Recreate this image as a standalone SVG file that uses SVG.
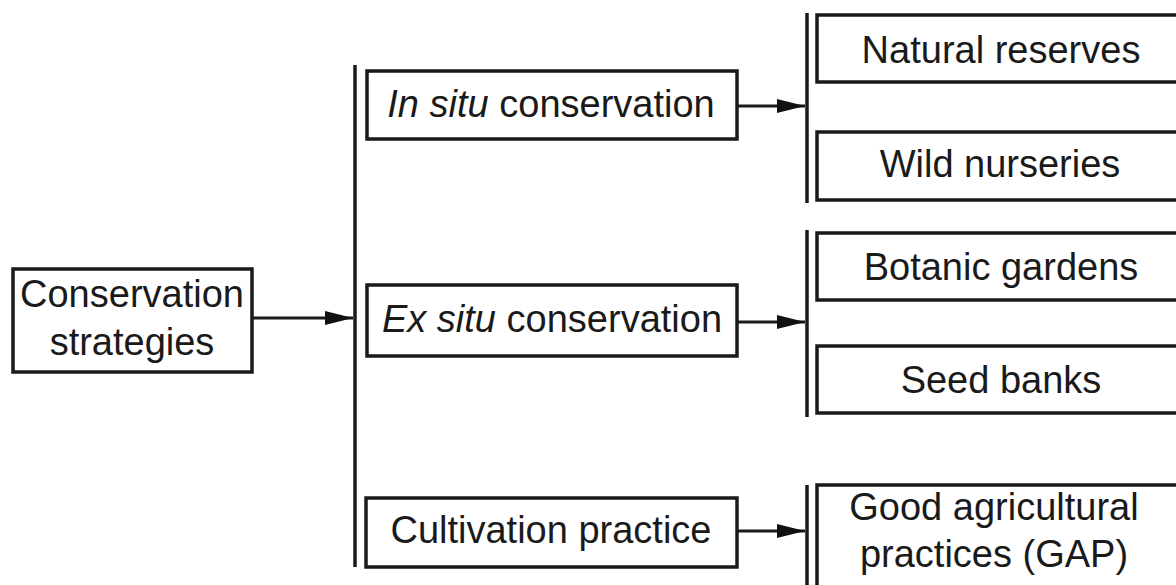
<svg xmlns="http://www.w3.org/2000/svg" width="1176" height="585" viewBox="0 0 1176 585">
  <defs>
    <style>
      .box { fill: #ffffff; stroke: #1a1a1a; stroke-width: 3.5; }
      .t { font-family: "Liberation Sans", Arial, sans-serif; font-size: 38px; fill: #1a1a1a; text-anchor: middle; }
      .i { font-style: italic; }
      .ln { stroke: #1a1a1a; stroke-width: 3.5; fill: none; }
      .ar { stroke: #1a1a1a; stroke-width: 3; fill: none; }
    </style>
    <marker id="head" markerWidth="28" markerHeight="16" refX="28" refY="8" orient="auto" markerUnits="userSpaceOnUse">
      <path d="M0,1 L28,8 L0,15 Z" fill="#111"/>
    </marker>
  </defs>
  <rect width="1176" height="585" fill="#ffffff"/>

  <g id="connectors">
    <line class="ln" x1="355" y1="65" x2="355" y2="567"/>
    <line class="ln" x1="807" y1="13" x2="807" y2="203"/>
    <line class="ln" x1="807" y1="230" x2="807" y2="417"/>
    <line class="ln" x1="807" y1="485" x2="807" y2="585"/>
    <line class="ar" x1="252" y1="318" x2="353" y2="318" marker-end="url(#head)"/>
    <line class="ar" x1="737" y1="106" x2="805" y2="106" marker-end="url(#head)"/>
    <line class="ar" x1="737" y1="322" x2="805" y2="322" marker-end="url(#head)"/>
    <line class="ar" x1="737" y1="531" x2="805" y2="531" marker-end="url(#head)"/>
  </g>

  <g id="conservation-strategies">
    <rect class="box" x="13" y="269" width="239" height="103"/>
    <text class="t" x="132" y="307">Conservation</text>
    <text class="t" x="132" y="355">strategies</text>
  </g>

  <g id="in-situ">
    <rect class="box" x="367" y="71" width="370" height="68"/>
    <text class="t" x="551" y="117"><tspan class="i">In situ</tspan> conservation</text>
  </g>

  <g id="ex-situ">
    <rect class="box" x="367" y="285" width="370" height="71"/>
    <text class="t" x="552" y="332"><tspan class="i">Ex situ</tspan> conservation</text>
  </g>

  <g id="cultivation">
    <rect class="box" x="366" y="498" width="371" height="69"/>
    <text class="t" x="551" y="543">Cultivation practice</text>
  </g>

  <g id="natural-reserves">
    <rect class="box" x="817" y="15" width="370" height="67"/>
    <text class="t" x="1001" y="63">Natural reserves</text>
  </g>

  <g id="wild-nurseries">
    <rect class="box" x="817" y="132" width="370" height="68"/>
    <text class="t" x="1000" y="177">Wild nurseries</text>
  </g>

  <g id="botanic-gardens">
    <rect class="box" x="817" y="233" width="370" height="67"/>
    <text class="t" x="1001" y="280">Botanic gardens</text>
  </g>

  <g id="seed-banks">
    <rect class="box" x="817" y="346" width="370" height="67"/>
    <text class="t" x="1001" y="393">Seed banks</text>
  </g>

  <g id="gap">
    <rect class="box" x="817" y="485" width="370" height="110"/>
    <text class="t" x="994" y="520">Good agricultural</text>
    <text class="t" x="994" y="567">practices (GAP)</text>
  </g>
</svg>
